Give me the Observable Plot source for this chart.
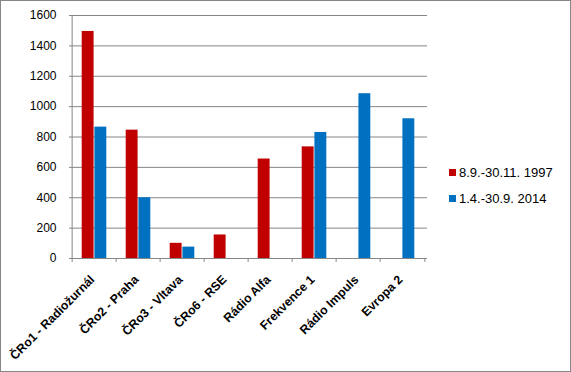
<!DOCTYPE html>
<html>
<head>
<meta charset="utf-8">
<script src="https://cdn.jsdelivr.net/npm/d3@7"></script>
<script src="https://cdn.jsdelivr.net/npm/@observablehq/plot@0.6"></script>
<style>
  html, body { margin: 0; padding: 0; background: #fff; }
  #wrap { position: relative; width: 571px; height: 372px; overflow: hidden; font-family: "Liberation Sans", Arial, sans-serif; }
  #border { position: absolute; left: 0; top: 0; width: 571px; height: 372px; box-sizing: border-box; border: 1px solid #868686; pointer-events: none; }
  #legend { position: absolute; left: 449px; top: 165px; font-size: 13px; color: #000; }
  .li { display: flex; align-items: center; height: 14px; margin-bottom: 12px; }
  .sw { width: 7px; height: 7px; margin-right: 3px; }
  svg { display: block; }
</style>
</head>
<body>
<div id="wrap"><div id="chart"></div><div id="legend"></div><div id="border"></div></div>
<script>
const categories = ["ČRo1 - Radiožurnál", "ČRo2 - Praha", "ČRo3 - Vltava", "ČRo6 - RSE", "Rádio Alfa", "Frekvence 1", "Rádio Impuls", "Evropa 2"];
const seriesNames = ["8.9.-30.11. 1997", "1.4.-30.9. 2014"];
const values1997 = [1495, 845, 100, 155, 655, 735, null, null];
const values2014 = [865, 400, 75, null, null, 830, 1085, 920];
const seriesColors = ["#C00000", "#0070C0"];
const yTicks = [0, 200, 400, 600, 800, 1000, 1200, 1400, 1600];

const d1997 = categories.map((c, i) => ({cat: c, v: values1997[i]})).filter(d => d.v != null);
const d2014 = categories.map((c, i) => ({cat: c, v: values2014[i]})).filter(d => d.v != null);

const W = 571, H = 372, mL = 69, mR = 144, mT = 15, mB = 114;
const bw = (W - mL - mR) / categories.length;
const gray = "#868686";

const chart = Plot.plot({
  width: W, height: H,
  marginLeft: mL, marginRight: mR, marginTop: mT, marginBottom: mB,
  style: {fontFamily: "'Liberation Sans', Arial, sans-serif", fontSize: "12px", color: "#000", background: "#fff"},
  x: {domain: categories, padding: 0, label: null},
  y: {domain: [0, 1600], label: null},
  marks: [
    Plot.gridY(yTicks, {stroke: gray, strokeOpacity: 1, strokeWidth: 1}),
    Plot.ruleX([categories[0]], {dx: -bw / 2, y1: 0, y2: 1600, stroke: gray}),
    Plot.ruleX(categories, {x: d => d, dx: -bw / 2, y1: 0, y2: -26, stroke: gray}),
    Plot.ruleX([categories[categories.length - 1]], {x: d => d, dx: bw / 2, y1: 0, y2: -26, stroke: gray}),
    Plot.rectY(d1997, {x: "cat", y: "v", fill: seriesColors[0], insetLeft: 9.7, insetRight: 22.4}),
    Plot.rectY(d2014, {x: "cat", y: "v", fill: seriesColors[1], insetLeft: 22.4, insetRight: 9.7}),
    Plot.axisY(yTicks, {tickSize: 0, tickPadding: 13, fontSize: 12, fill: "#000", label: null, tickFormat: d => String(d)}),
    Plot.axisX({tickSize: 0, tickPadding: 13, dx: -2, dy: 6, tickRotate: -45, fontSize: 12.3, fontWeight: "bold", fill: "#000", label: null})
  ]
});
document.getElementById("chart").appendChild(chart);

const legend = document.getElementById("legend");
seriesNames.forEach((name, i) => {
  const row = document.createElement("div");
  row.className = "li";
  const sw = document.createElement("span");
  sw.className = "sw";
  sw.style.background = seriesColors[i];
  const t = document.createElement("span");
  t.textContent = name;
  row.appendChild(sw); row.appendChild(t);
  legend.appendChild(row);
});
</script>
</body>
</html>
